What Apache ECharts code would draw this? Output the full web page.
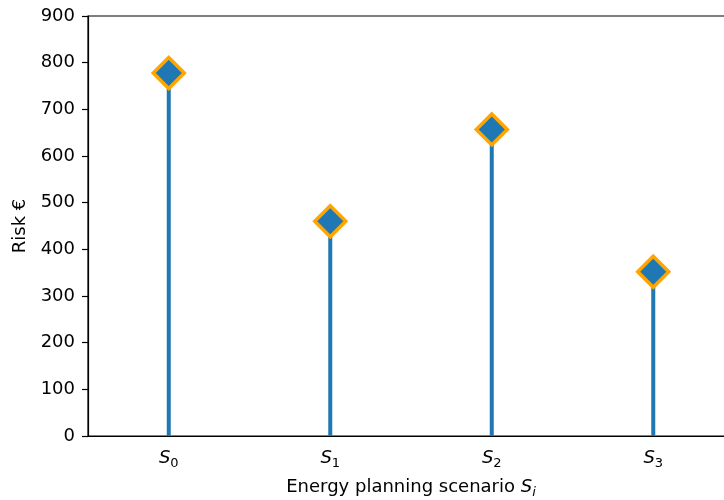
<!DOCTYPE html>
<html>
<head>
<meta charset="utf-8">
<script src="https://cdn.jsdelivr.net/npm/echarts@6/dist/echarts.min.js"></script>
<style>html,body{margin:0;padding:0;background:#fff}#c{width:724px;height:500px}</style>
</head>
<body>
<div id="c"></div>
<script>
var categories = ['0', '1', '2', '3'];
var risks = [778, 460, 657, 352];
var yTicks = [0, 100, 200, 300, 400, 500, 600, 700, 800, 900];

var chart = echarts.init(document.getElementById('c'), null, {renderer: 'canvas'});
var font = 'DejaVu Sans';
chart.setOption({
  animation: false,
  backgroundColor: '#fff',
  grid: {left: 88, top: 16, width: 646, height: 420, containLabel: false, outerBoundsMode: 'none',
         show: true, borderColor: '#000', borderWidth: 1.2, backgroundColor: 'transparent'},
  xAxis: {
    type: 'category',
    data: categories,
    boundaryGap: true,
    axisLine: {lineStyle: {color: '#000', width: 1.2}},
    axisTick: {alignWithLabel: true, length: 6, lineStyle: {color: '#000', width: 1.2}},
    axisLabel: {
      margin: 11,
      formatter: function (v) { return '{s|S}{sub|' + v + '}'; },
      rich: {
        s: {fontFamily: font, fontStyle: 'italic', fontSize: 18, color: '#000'},
        sub: {fontFamily: font, fontSize: 13, color: '#000', padding: [10, 0, 0, 0]}
      }
    },
    name: '{t|Energy planning scenario }{s|S}{sub|i}',
    nameLocation: 'middle',
    nameGap: 40,
    nameTextStyle: {
      rich: {
        t: {fontFamily: font, fontSize: 18, color: '#000'},
        s: {fontFamily: font, fontStyle: 'italic', fontSize: 18, color: '#000'},
        sub: {fontFamily: font, fontStyle: 'italic', fontSize: 13, color: '#000', padding: [10, 0, 0, 0]}
      }
    },
    splitLine: {show: false}
  },
  yAxis: {
    type: 'value',
    min: 0, max: 900, interval: 100,
    axisLine: {show: true, lineStyle: {color: '#000', width: 1.2}},
    axisTick: {show: true, length: 6, lineStyle: {color: '#000', width: 1.2}},
    axisLabel: {fontFamily: font, fontSize: 18, color: '#000', margin: 13},
    splitLine: {show: false},
    name: 'Risk €',
    nameLocation: 'middle',
    nameGap: 58,
    nameTextStyle: {fontFamily: font, fontSize: 18, color: '#000'}
  },
  series: [
    {
      type: 'bar',
      data: risks,
      barWidth: 4,
      itemStyle: {color: '#1f77b4'},
      silent: true
    },
    {
      type: 'scatter',
      data: risks,
      symbol: 'diamond',
      symbolSize: [31, 31],
      itemStyle: {color: '#1f77b4', borderColor: '#ffa500', borderWidth: 3.5, opacity: 1},
      z: 5
    }
  ]
});
</script>
</body>
</html>
